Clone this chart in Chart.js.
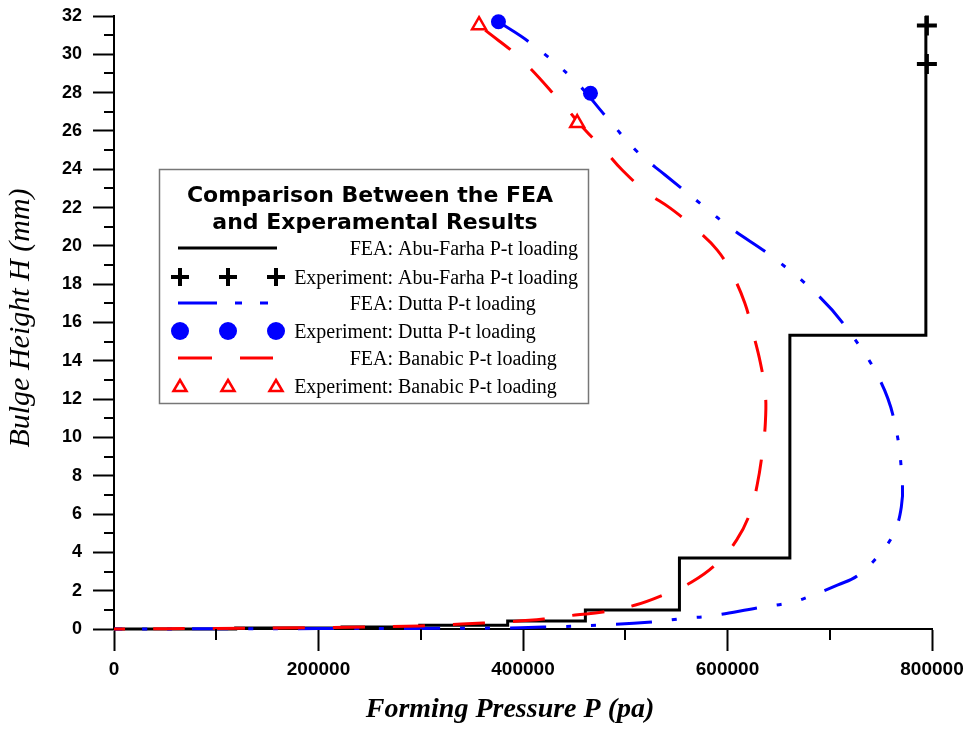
<!DOCTYPE html>
<html>
<head>
<meta charset="utf-8">
<script src="https://cdn.jsdelivr.net/npm/chart.js@4/dist/chart.umd.min.js"></script>
<style>
html,body{margin:0;padding:0;background:#fff;}
#wrap{width:968px;height:729px;}
</style>
</head>
<body>
<div id="wrap"><canvas id="c" width="968" height="729"></canvas></div>
<script>
// FEA: Abu-Farha P-t loading (step corners)
var abuFeaP = [0, 119000, 223000, 299000, 385000, 461000, 553000, 661000, 794000];
var abuFeaH = [0, 0.05, 0.1, 0.2, 0.42, 0.99, 3.7, 15.34, 32];
// Experiment: Abu-Farha
var abuExpP = [795000, 795000];
var abuExpH = [31.5, 29.5];
// FEA: Dutta P-t loading
var duttaFeaP = [376000, 407000, 451000, 482000, 512000, 539000, 576000, 604000, 642000, 687000, 718000, 749000, 764000, 771000, 770000, 764000, 752000, 728000, 708000, 686000, 664000, 629000, 583000, 560000, 526000, 478000, 420000, 375000, 300000, 200000, 100000, 0];
var duttaFeaH = [31.7, 30.6, 28.6, 26.7, 24.9, 23.7, 22.1, 20.9, 19.5, 17.5, 15.6, 13.0, 10.65, 7.6, 6.37, 5.17, 4.12, 2.82, 2.3, 1.83, 1.41, 1.1, 0.68, 0.57, 0.37, 0.21, 0.1, 0.05, 0.03, 0.02, 0.01, 0];
// Experiment: Dutta
var duttaExpP = [376000, 466000];
var duttaExpH = [31.7, 27.97];
// FEA: Banabic P-t loading
var banFeaP = [363000, 397000, 438000, 461000, 478000, 497000, 521000, 544000, 568000, 590000, 605000, 617000, 625000, 632000, 637000, 637000, 634000, 629000, 622000, 609000, 590000, 565000, 537000, 510000, 478000, 451000, 420000, 384000, 361000, 319000, 299000, 200000, 100000, 0];
var banFeaH = [31.26, 29.8, 27.45, 26.04, 25.1, 23.96, 22.8, 21.97, 20.93, 19.78, 18.48, 17.0, 15.45, 13.94, 12.3, 10.75, 9.19, 7.52, 6.05, 4.65, 3.44, 2.45, 1.77, 1.25, 0.89, 0.73, 0.52, 0.37, 0.31, 0.21, 0.16, 0.07, 0.03, 0];
// Experiment: Banabic
var banExpP = [357000, 453000];
var banExpH = [31.52, 26.41];

var xTitle = 'Forming Pressure P (pa)';
var yTitle = 'Bulge Height H (mm)';
var legendTitle = ['Comparison Between the FEA', 'and Experamental Results'];
var legendRows = [
  ['FEA:', 'Abu-Farha P-t loading'],
  ['Experiment:', 'Abu-Farha P-t loading'],
  ['FEA:', 'Dutta P-t loading'],
  ['Experiment:', 'Dutta P-t loading'],
  ['FEA:', 'Banabic P-t loading'],
  ['Experiment:', 'Banabic P-t loading']
];

function pts(xs, ys){
  return xs.map(function(v, i){ return {x: v, y: ys[i]}; });
}

var decor = {
  id: 'decor',
  afterDraw: function(chart){
    var ctx = chart.ctx, xs = chart.scales.x, ys = chart.scales.y;
    var ca = chart.chartArea;
    ctx.save();
    // minor ticks
    ctx.strokeStyle = '#000'; ctx.lineWidth = 2;
    ctx.beginPath();
    for (var v = 100000; v < 800000; v += 200000){
      var px = Math.round(xs.getPixelForValue(v));
      ctx.moveTo(px, ca.bottom); ctx.lineTo(px, ca.bottom + 11);
    }
    for (var h = 1; h < 32; h += 2){
      var py = Math.round(ys.getPixelForValue(h));
      ctx.moveTo(ca.left - 10, py); ctx.lineTo(ca.left, py);
    }
    ctx.stroke();

    // axis titles
    ctx.fillStyle = '#000';
    ctx.textAlign = 'center'; ctx.textBaseline = 'middle';
    ctx.font = 'bold italic 28px "Liberation Serif"';
    ctx.fillText(xTitle, 510, 710);
    ctx.save();
    ctx.translate(21, 318); ctx.rotate(-Math.PI / 2);
    ctx.font = 'italic 30px "Liberation Serif"';
    ctx.fillText(yTitle, 0, 0);
    ctx.restore();

    // legend box
    var lx = 159, ly = 169, lw = 429, lh = 234;
    ctx.fillStyle = '#fff'; ctx.fillRect(lx, ly, lw, lh);
    ctx.strokeStyle = '#777'; ctx.lineWidth = 1.5;
    ctx.strokeRect(lx + 0.5, ly + 0.5, lw, lh);
    ctx.fillStyle = '#000';
    ctx.textBaseline = 'alphabetic';
    ctx.font = 'bold 22px "DejaVu Sans"';
    ctx.fillText(legendTitle[0], 370, 202);
    ctx.fillText(legendTitle[1], 375, 229);

    var base = [255, 284, 310, 338, 365, 393];
    ctx.font = '20px "Liberation Serif"';
    legendRows.forEach(function(r, i){
      ctx.textAlign = 'right';
      ctx.fillText(r[0], 393, base[i]);
      ctx.textAlign = 'left';
      ctx.fillText(r[1], 398, base[i]);
    });

    var mk = [180, 228, 276];
    // black line
    ctx.strokeStyle = '#000'; ctx.lineWidth = 3;
    ctx.beginPath(); ctx.moveTo(178, 248); ctx.lineTo(277, 248); ctx.stroke();
    // crosses
    ctx.lineWidth = 4;
    mk.forEach(function(x){
      ctx.beginPath();
      ctx.moveTo(x - 9, 277); ctx.lineTo(x + 9, 277);
      ctx.moveTo(x, 268); ctx.lineTo(x, 286);
      ctx.stroke();
    });
    // blue dash-dot
    ctx.strokeStyle = '#0000ff'; ctx.lineWidth = 3;
    [[178, 217], [235, 242], [260, 268]].forEach(function(s){
      ctx.beginPath(); ctx.moveTo(s[0], 303); ctx.lineTo(s[1], 303); ctx.stroke();
    });
    // circles
    ctx.fillStyle = '#0000ff';
    mk.forEach(function(x){
      ctx.beginPath(); ctx.arc(x, 331, 9, 0, Math.PI * 2); ctx.fill();
    });
    // red dashes
    ctx.strokeStyle = '#ff0000';
    [[178, 212], [240, 273]].forEach(function(s){
      ctx.beginPath(); ctx.moveTo(s[0], 358); ctx.lineTo(s[1], 358); ctx.stroke();
    });
    // triangles
    ctx.lineWidth = 2.5;
    mk.forEach(function(x){
      ctx.beginPath();
      ctx.moveTo(x, 380); ctx.lineTo(x + 6.5, 391); ctx.lineTo(x - 6.5, 391); ctx.closePath();
      ctx.stroke();
    });
    ctx.restore();
  }
};

new Chart(document.getElementById('c'), {
  type: 'scatter',
  data: {
    datasets: [
      {label: 'Experiment: Abu-Farha P-t loading', data: pts(abuExpP, abuExpH), pointStyle: 'cross', pointRadius: 10, pointBorderWidth: 4, borderColor: '#000', backgroundColor: '#000', order: 0, clip: false},
      {label: 'Experiment: Dutta P-t loading', data: pts(duttaExpP, duttaExpH), pointStyle: 'circle', pointRadius: 7.5, pointBorderWidth: 0, borderColor: '#0000ff', backgroundColor: '#0000ff', order: 0, clip: false},
      {label: 'Experiment: Banabic P-t loading', data: pts(banExpP, banExpH), pointStyle: 'triangle', pointRadius: 8, pointBorderWidth: 2.5, borderColor: '#ff0000', backgroundColor: '#ffffff', order: 0, clip: false},
      {label: 'FEA: Banabic P-t loading', data: pts(banFeaP, banFeaH), showLine: true, tension: 0.4, borderColor: '#ff0000', borderWidth: 3, borderDash: [32, 28], pointRadius: 0, order: 1, clip: false},
      {label: 'FEA: Dutta P-t loading', data: pts(duttaFeaP, duttaFeaH), showLine: true, tension: 0.4, borderColor: '#0000ff', borderWidth: 3, borderDash: [36, 20, 5, 20, 5, 20], pointRadius: 0, order: 2, clip: false},
      {label: 'FEA: Abu-Farha P-t loading', data: pts(abuFeaP, abuFeaH), showLine: true, stepped: 'before', borderColor: '#000', borderWidth: 3, borderJoinStyle: 'miter', pointRadius: 0, order: 3, clip: false}
    ]
  },
  options: {
    responsive: false,
    animation: false,
    devicePixelRatio: 1,
    layout: {padding: {top: 16, right: 36, left: 0, bottom: 0}},
    plugins: {legend: {display: false}, tooltip: {enabled: false}},
    scales: {
      x: {
        type: 'linear', min: 0, max: 800000,
        afterFit: function(s){ s.height = 100; s.paddingLeft = 0; s.paddingRight = 0; },
        ticks: {
          stepSize: 100000, autoSkip: false, maxRotation: 0, color: '#000', padding: 7,
          font: {family: 'Liberation Sans', weight: 'bold', size: 19},
          callback: function(v){ return v % 200000 === 0 ? String(v) : ''; }
        },
        grid: {
          drawOnChartArea: false, tickLength: 22, tickWidth: 2,
          tickColor: function(c){ return c.tick && c.tick.value % 200000 === 0 ? '#000' : 'rgba(0,0,0,0)'; }
        },
        border: {display: true, color: '#000', width: 2}
      },
      y: {
        type: 'linear', min: 0, max: 32,
        afterFit: function(s){ s.width = 114; s.paddingTop = 0; s.paddingBottom = 0; },
        ticks: {
          stepSize: 1, autoSkip: false, color: '#000', padding: 11,
          font: {family: 'Liberation Sans', weight: 'bold', size: 18},
          callback: function(v){ return v % 2 === 0 ? String(v) : ''; }
        },
        grid: {
          drawOnChartArea: false, tickLength: 21, tickWidth: 2,
          tickColor: function(c){ return c.tick && c.tick.value % 2 === 0 ? '#000' : 'rgba(0,0,0,0)'; }
        },
        border: {display: true, color: '#000', width: 2}
      }
    }
  },
  plugins: [decor]
});
</script>
</body>
</html>
